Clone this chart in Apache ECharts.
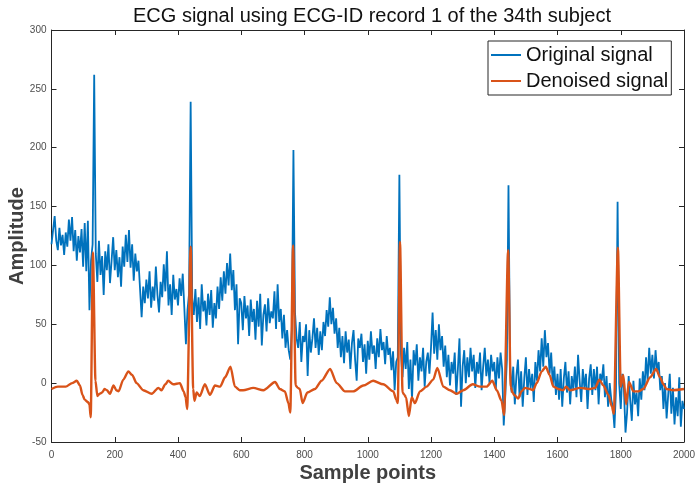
<!DOCTYPE html>
<html>
<head>
<meta charset="utf-8">
<script src="https://cdn.jsdelivr.net/npm/echarts@6/dist/echarts.min.js"></script>
<style>
  html, body { margin: 0; padding: 0; background: #fff; }
  #chart { width: 695px; height: 486px; }
</style>
</head>
<body>
<div id="chart"></div>
<script>
// Raw ECG record, one reading every 5 samples (0..2000)
const originalStep = 5;
const originalValues = [
  118, 130, 142, 121, 113, 132, 117, 126, 109, 128,
  116, 139, 121, 141, 112, 130, 104, 125, 111, 131,
  99, 136, 95, 138, 62, 104, 118, 262, 110, 86,
  121, 92, 108, 75, 112, 96, 118, 85, 104, 124,
  96, 113, 90, 107, 82, 116, 99, 126, 103, 130,
  98, 118, 87, 110, 95, 104, 80, 56, 82, 68,
  88, 72, 95, 64, 82, 70, 99, 75, 60, 86,
  73, 101, 78, 112, 66, 84, 58, 92, 71, 80,
  66, 89, 74, 93, 64, 33, 62, 76, 239, 72,
  58, 80, 52, 73, 46, 84, 61, 70, 49, 76,
  58, 79, 47, 68, 55, 82, 63, 90, 70, 95,
  76, 102, 83, 110, 79, 96, 62, 84, 33, 72,
  68, 45, 74, 55, 66, 40, 71, 52, 63, 37,
  70, 48, 76, 32, 58, 67, 44, 72, 51, 61,
  55, 78, 46, 84, 52, 63, 38, 58, 30, 45,
  28, 20, 45, 198, 60, 38, 30, 52, 18, 40,
  35, 50, 6, 45, 26, 38, 55, 30, 47, 24,
  44, 28, 52, 40, 62, 48, 73, 50, 64, 42,
  55, 30, 47, 22, 40, 17, 44, 26, 37, 12,
  34, 45, 20, 2, 38, 30, 42, 18, 33, 8,
  36, 20, 44, 25, 32, 12, 38, 22, 46, 28,
  35, 16, 40, 24, 30, 11, 27, -6, 18, 22,
  177, 25, 5, 30, 12, 35, -5, 20, -14, 28,
  15, 33, 2, 22, 10, 30, -3, 18, 26, 8,
  30, 60, 25, 45, 20, 50, 28, 40, 14, 32,
  5, 24, -2, 18, 8, 26, -10, 12, 38, -20,
  14, 28, 0, 22, 5, 30, 10, 24, -4, 18,
  8, 26, -6, 14, 30, 6, 20, 0, 24, 10,
  18, -5, 22, 4, 26, 12, -36, -10, 20, 168,
  15, -8, 14, -18, 6, 20, -12, 10, -20, 4,
  22, -10, 12, -4, 8, -16, 18, 2, 28, 10,
  38, 14, 45, 22, 34, 8, 26, -2, 14, -10,
  8, -14, 12, -20, 4, 18, -8, 10, -18, 6,
  -6, 14, -12, 24, 2, -16, 12, -4, 8, -22,
  4, 16, -10, 12, -6, 14, -18, 8, 2, 16,
  -12, 6, -20, 0, -14, -20, -38, -5, 154, 0,
  -22, 8, -5, -42, -25, 6, -15, -32, 2, -18,
  -8, -28, 4, -14, 10, -6, 22, 2, 30, 8,
  24, 4, 28, 10, 18, -6, 6, -22, 0, -30,
  -10, 8, -26, -4, -35, -12, -28, 5, -37, -15,
  -22
];

// Denoised record: sample positions and amplitudes
const denoisedSamples = [
  0, 20, 45, 65, 80, 90, 98, 105, 115, 120, 124, 131, 139, 145, 152, 160, 168, 175, 185, 196,
  205, 212, 227, 243, 255, 269, 290, 317, 338, 348, 360, 369, 385, 406, 418, 424, 429, 440, 448, 452,
  459, 469, 485, 501, 517, 533, 549, 566, 580, 595, 606, 638, 670, 707, 722, 738, 749, 755, 764, 772,
  779, 785, 794, 809, 833, 854, 881, 902, 928, 954, 986, 1017, 1049, 1081, 1090, 1095, 1102, 1110, 1116, 1121,
  1130, 1139, 1149, 1165, 1186, 1207, 1220, 1239, 1260, 1281, 1302, 1332, 1355, 1376, 1394, 1408, 1423, 1431, 1444, 1452,
  1458, 1463, 1476, 1486, 1497, 1513, 1523, 1534, 1550, 1563, 1575, 1587, 1603, 1618, 1627, 1640, 1671, 1703, 1719, 1732,
  1745, 1761, 1772, 1778, 1791, 1800, 1808, 1817, 1826, 1840, 1856, 1871, 1893, 1912, 1924, 1935, 1945, 1966, 2000
];
const denoisedValues = [
  -5, -3, -3, 0, 2, -2, -10, -14, -16, -18, -29, 111, 2, -11, -9, -8, -5, -6, -9, -2,
  -6, -7, 3, 10, 7, 0, -6, -9, -4, -6, -1, 2, -1, 0, -7, -12, -22, 116, -5, -15,
  -8, -11, -1, -10, -2, -3, 5, 14, -3, -6, -6, -4, -6, 1, -5, -7, -17, -25, 117, -2,
  -4, -5, -17, -8, -5, 2, 12, 0, -7, -7, -2, 2, -1, -7, -14, -17, 120, -8, -10, -12,
  -28, -12, -17, -7, -3, 3, 13, -3, -6, -9, -6, -1, -3, -3, 2, -6, -15, -27, 113, -3,
  -8, -10, -13, -7, -4, -5, -6, 0, 10, 14, 7, -3, -5, -6, -3, -6, -4, -5, -4, 3,
  -2, -10, -20, -26, 115, -3, 7, -18, 1, -7, -7, -5, 5, 12, 5, -1, -5, -6, -5
];

const xTicks = { min: 0, max: 2000, interval: 200 };
const yTicks = { min: -50, max: 300, interval: 50 };

const originalData = originalValues.map((v, i) => [i * originalStep, v]);
const denoisedData = denoisedSamples.map((s, i) => [s, denoisedValues[i]]);

const axisColor = '#262626';
const labelColor = '#4d4d4d';
const font = '"Liberation Sans", Arial, Helvetica, sans-serif';

const chart = echarts.init(document.getElementById('chart'), null, { renderer: 'canvas' });

const frameAxis = (extra) => Object.assign({
  type: 'value',
  splitLine: { show: false },
  axisLine: { show: true, onZero: false, lineStyle: { color: axisColor, width: 1 } },
  axisTick: { show: true, inside: true, length: 5, lineStyle: { color: axisColor } },
}, extra);

chart.setOption({
  animation: false,
  backgroundColor: '#ffffff',
  title: {
    text: 'ECG signal using ECG-ID record 1 of the 34th subject',
    left: 367, top: 1, textAlign: 'center',
    textStyle: { fontFamily: font, fontSize: 20, fontWeight: 'normal', color: '#111' }
  },
  grid: { left: 51.5, right: 11, top: 30, bottom: 44, containLabel: false, outerBoundsMode: 'none' },
  legend: {
    orient: 'vertical',
    left: 488, top: 41,
    padding: [3, 3, 3, 3],
    itemGap: 4,
    itemWidth: 30,
    itemHeight: 2,
    itemTextGap: 4,
    backgroundColor: '#fff',
    borderColor: '#262626',
    borderWidth: 1,
    borderRadius: 0,
    textStyle: { fontFamily: font, fontSize: 20, color: '#111', lineHeight: 22 },
    data: [
      { name: 'Original signal', icon: 'rect' },
      { name: 'Denoised signal', icon: 'rect' }
    ]
  },
  xAxis: [
    frameAxis({
      position: 'bottom',
      min: xTicks.min, max: xTicks.max, interval: xTicks.interval,
      name: 'Sample points', nameLocation: 'middle', nameGap: 21, nameMoveOverlap: false,
      nameTextStyle: { fontFamily: font, fontSize: 20, fontWeight: 'bold', color: '#404040' },
      axisLabel: { color: labelColor, fontFamily: font, fontSize: 10, margin: 8, formatter: (v) => String(v) }
    }),
    frameAxis({
      position: 'top',
      min: xTicks.min, max: xTicks.max, interval: xTicks.interval,
      axisLabel: { show: false }
    })
  ],
  yAxis: [
    frameAxis({
      position: 'left',
      min: yTicks.min, max: yTicks.max, interval: yTicks.interval,
      name: 'Amplitude', nameLocation: 'middle', nameGap: 24, nameRotate: 90, nameMoveOverlap: false,
      nameTextStyle: { fontFamily: font, fontSize: 20, fontWeight: 'bold', color: '#404040' },
      axisLabel: { color: labelColor, fontFamily: font, fontSize: 10, margin: 5, formatter: (v) => String(v) }
    }),
    frameAxis({
      position: 'right',
      min: yTicks.min, max: yTicks.max, interval: yTicks.interval,
      axisLabel: { show: false }
    })
  ],
  series: [
    {
      name: 'Original signal',
      type: 'line',
      xAxisIndex: 0, yAxisIndex: 0,
      data: originalData,
      symbol: 'none',
      lineStyle: { color: '#0072BD', width: 1.8 },
      itemStyle: { color: '#0072BD' },
      z: 2
    },
    {
      name: 'Denoised signal',
      type: 'line',
      xAxisIndex: 0, yAxisIndex: 0,
      data: denoisedData,
      symbol: 'none',
      smooth: 0.25,
      smoothMonotone: 'x',
      lineStyle: { color: '#D95319', width: 2.4 },
      itemStyle: { color: '#D95319' },
      z: 3
    }
  ]
});
</script>
</body>
</html>
